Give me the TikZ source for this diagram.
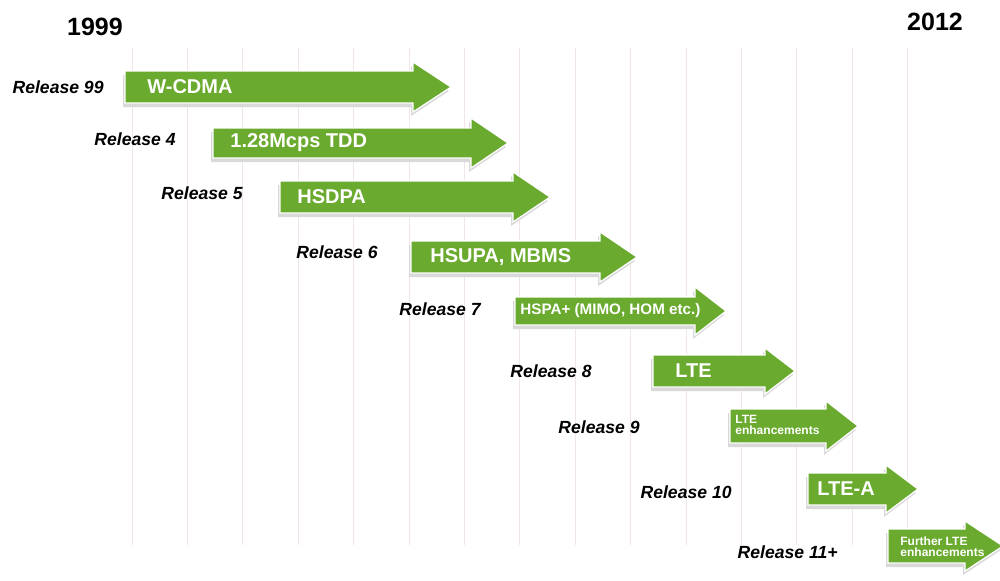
\documentclass[tikz,border=0pt]{standalone}
\usepackage{fontspec}
\setmainfont{Liberation Sans}
\definecolor{relgreen}{RGB}{106,170,46}
\definecolor{gridpink}{RGB}{240,230,232}
\tikzset{
  reltext/.style={anchor=east,inner sep=0pt,font=\fontsize{8.8}{10}\selectfont\bfseries\itshape},
  techtext/.style={anchor=west,inner sep=0pt,text=white,font=\fontsize{10}{12}\selectfont\bfseries},
  tinytext/.style={techtext,align=left,font=\fontsize{6}{5.6}\selectfont\bfseries},
  yeartext/.style={inner sep=0pt,font=\fontsize{12.5}{14}\selectfont\bfseries},
  gridline/.style={gridpink,line width=0.5pt}
}
% body start, head base, tip, centre y, body half height, head half height
\newcommand{\relarrow}[6]{%
  \fill[black!15,shift={(-2,4)}] (#1,{#4-#5}) -- (#2,{#4-#5}) -- (#2,{#4-#6}) -- (#3,#4)
     -- (#2,{#4+#6}) -- (#2,{#4+#5}) -- (#1,{#4+#5}) -- cycle;
  \filldraw[relgreen,draw=white,line width=0.6pt] (#1,{#4-#5}) -- (#2,{#4-#5}) -- (#2,{#4-#6}) -- (#3,#4)
     -- (#2,{#4+#6}) -- (#2,{#4+#5}) -- (#1,{#4+#5}) -- cycle;
}
\begin{document}
\begin{tikzpicture}[x=0.5pt,y=-0.5pt]
  \useasboundingbox (0,0) rectangle (1000,580);
  \foreach \i in {0,...,14}
    \draw[gridline] ({132+55.4*\i},48) -- ({132+55.4*\i},545);

  \node[yeartext] (y1999) at (95,27) {1999};
  \node[yeartext] (y2012) at (935,22) {2012};

  \relarrow{125}{413}{451}{87}{16}{25}
  \relarrow{213}{471}{508}{143}{15}{25}
  \relarrow{280}{513}{550}{197}{16}{25}
  \relarrow{411}{600}{637}{257}{16}{25}
  \relarrow{515}{695}{726}{311}{14}{24}
  \relarrow{653}{765}{795}{371}{16}{23}
  \relarrow{730}{826}{858}{426}{17}{25}
  \relarrow{808}{886}{918}{489}{16}{24}
  \relarrow{888}{965}{1003}{546}{17}{25}

  \node[reltext] (rel99) at (104,87) {Release 99};
  \node[reltext] (rel4) at (176,139) {Release 4};
  \node[reltext] (rel5) at (243,193) {Release 5};
  \node[reltext] (rel6) at (378,252) {Release 6};
  \node[reltext] (rel7) at (481,309) {Release 7};
  \node[reltext] (rel8) at (592,371) {Release 8};
  \node[reltext] (rel9) at (640,427) {Release 9};
  \node[reltext] (rel10) at (732,492) {Release 10};
  \node[reltext] (rel11) at (838,552) {Release 11+};

  \node[techtext] (wcdma) at (147,87) {W-CDMA};
  \node[techtext] (tdd) at (230,143) {1.28Mcps TDD};
  \node[techtext] (hsdpa) at (297,197) {HSDPA};
  \node[techtext] (hsupa) at (430,257) {HSUPA, MBMS};
  \node[techtext,font=\fontsize{7.6}{9}\selectfont\bfseries] (hspa) at (520,311) {HSPA+ (MIMO, HOM etc.)};
  \node[techtext] (lte) at (675,371) {LTE};
  \node[tinytext] (lteenh) at (735,425) {LTE\\enhancements};
  \node[techtext] (ltea) at (817,489) {LTE-A};
  \node[tinytext] (further) at (900,547) {Further LTE\\enhancements};
\end{tikzpicture}
\end{document}
